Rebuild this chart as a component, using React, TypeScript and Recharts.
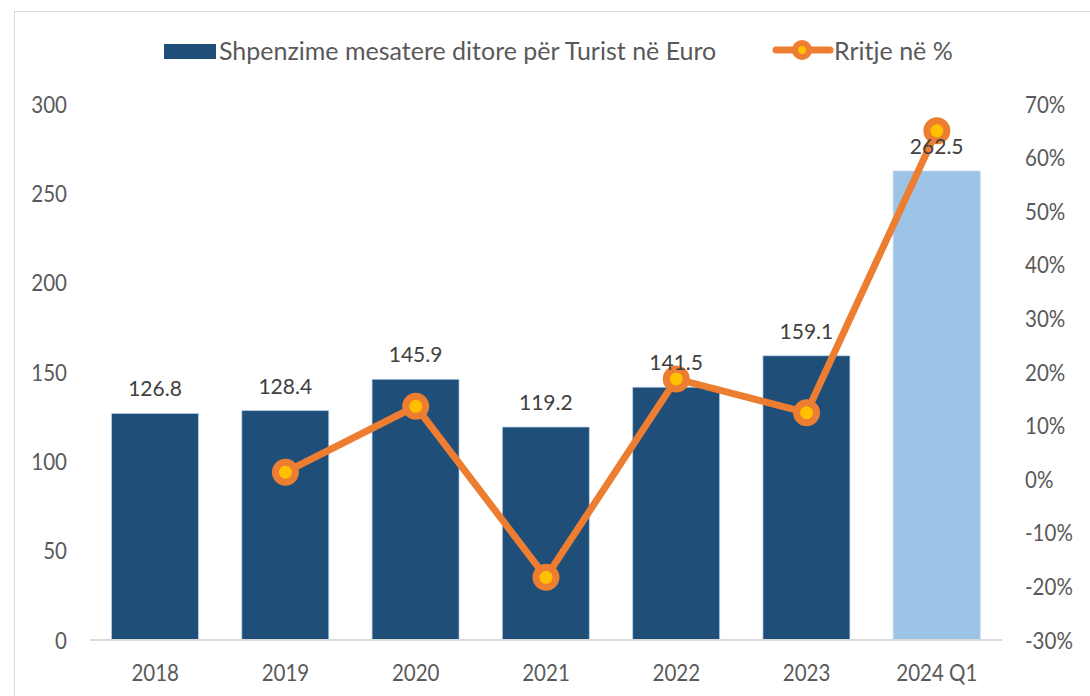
import React from 'react';
import { ComposedChart, Bar, Line, XAxis, YAxis, Cell, LabelList } from 'recharts';

const categories = ['2018', '2019', '2020', '2021', '2022', '2023', '2024 Q1'];
const spending = [126.8, 128.4, 145.9, 119.2, 141.5, 159.1, 262.5];
const growth: (number | null)[] = [null, 1.3, 13.6, -18.3, 18.7, 12.4, 65.0];
const leftTicks = [0, 50, 100, 150, 200, 250, 300];
const rightTicks = [-30, -20, -10, 0, 10, 20, 30, 40, 50, 60, 70];
const barColors = ['#1F4E79', '#1F4E79', '#1F4E79', '#1F4E79', '#1F4E79', '#1F4E79', '#9DC3E6'];
const barLegend = 'Shpenzime mesatere ditore për Turist në Euro';
const lineLegend = 'Rritje në %';

const data = categories.map((c, i) => ({ category: c, spending: spending[i], growth: growth[i] }));

const FONT = 'Lato, "Open Sans", sans-serif';
const TEXT = '#595959';

type TickProps = {
  x?: number;
  y?: number;
  payload?: { value: any };
  anchor: 'start' | 'middle' | 'end';
  vertical?: boolean;
  suffix?: string;
};

const StretchTick = ({ x = 0, y = 0, payload, anchor, vertical, suffix = '' }: TickProps) => (
  <g transform={`translate(${x},${y}) scale(1,1.16)`}>
    <text
      x={0}
      y={0}
      dy={vertical ? '0.36em' : '0.71em'}
      textAnchor={anchor}
      fill={TEXT}
      fontSize={20.5}
      fontFamily={FONT}
    >
      {`${payload ? payload.value : ''}${suffix}`}
    </text>
  </g>
);

export default function App() {
  return (
    <div style={{ position: 'absolute', left: 0, top: 0, width: 1090, height: 696, overflow: 'hidden', background: '#fff', fontFamily: FONT }}>
      <div style={{ position: 'absolute', left: 14, top: 11, width: 1100, height: 720, border: '1px solid #D9D9D9', boxSizing: 'border-box' }} />
      <div style={{ position: 'absolute', left: 0, top: 0 }}>
        <ComposedChart width={1090} height={696} data={data} margin={{ top: 104, right: 0, bottom: 0, left: 0 }} barCategoryGap="16.5%">
          <XAxis
            dataKey="category"
            height={56}
            tickLine={false}
            tickSize={0}
            tickMargin={24}
            axisLine={{ stroke: '#D9D9D9', strokeWidth: 2 }}
            tick={(p: any) => <StretchTick {...p} anchor="middle" />}
          />
          <YAxis
            yAxisId="left"
            orientation="left"
            width={90}
            domain={[0, 300]}
            ticks={leftTicks}
            axisLine={false}
            tickLine={false}
            tickSize={0}
            tickMargin={23}
            tick={(p: any) => <StretchTick {...p} anchor="end" vertical />}
          />
          <YAxis
            yAxisId="right"
            orientation="right"
            width={88}
            domain={[-30, 70]}
            ticks={rightTicks}
            axisLine={false}
            tickLine={false}
            tickSize={0}
            tickMargin={23}
            tick={(p: any) => <StretchTick {...p} anchor="start" vertical suffix="%" />}
          />
          <Bar yAxisId="left" dataKey="spending" isAnimationActive={false} stroke="#BDD7EE" strokeWidth={1} strokeOpacity={0.7}>
            {data.map((d, i) => (
              <Cell key={d.category} fill={barColors[i]} />
            ))}
            <LabelList dataKey="spending" position="top" offset={17} fill="#404040" fontSize={21} fontFamily={FONT} />
          </Bar>
          <Line
            yAxisId="right"
            dataKey="growth"
            stroke="#ED7D31"
            strokeWidth={7}
            isAnimationActive={false}
            dot={{ r: 10, fill: '#FFC000', stroke: '#ED7D31', strokeWidth: 7 }}
            activeDot={false}
          />
        </ComposedChart>
      </div>
      <div style={{ position: 'absolute', left: 164, top: 44, width: 52, height: 15, background: '#1F4E79' }} />
      <div style={{ position: 'absolute', left: 219, top: 35, height: 30, lineHeight: '30px', fontSize: 25, color: TEXT, whiteSpace: 'nowrap' }}>{barLegend}</div>
      <svg style={{ position: 'absolute', left: 772, top: 40 }} width={62} height={20}>
        <line x1={4} y1={10} x2={58} y2={10} stroke="#ED7D31" strokeWidth={7} strokeLinecap="round" />
        <circle cx={30} cy={10} r={7} fill="#FFC000" stroke="#ED7D31" strokeWidth={6} />
      </svg>
      <div style={{ position: 'absolute', left: 834, top: 35, height: 30, lineHeight: '30px', fontSize: 25, color: TEXT, whiteSpace: 'nowrap' }}>{lineLegend}</div>
    </div>
  );
}
